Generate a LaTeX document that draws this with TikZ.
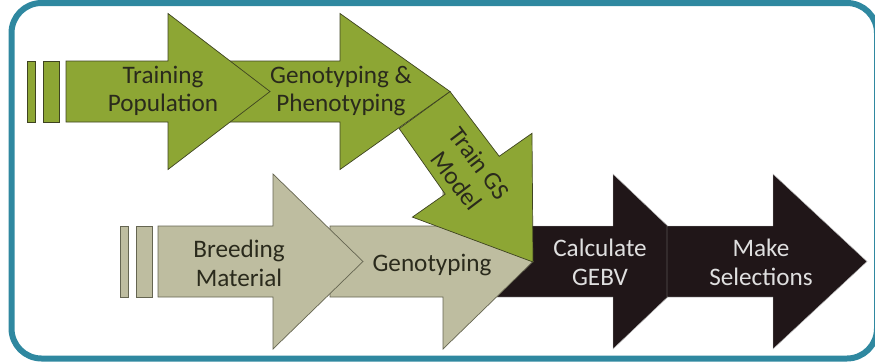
\documentclass[tikz,border=0pt]{standalone}
\usepackage{fontspec}
\setmainfont{Carlito}
\usepackage{tikz}
\definecolor{gsgreen}{RGB}{141,166,52}
\definecolor{gsgray}{RGB}{190,189,160}
\definecolor{gsblack}{RGB}{32,22,24}
\definecolor{gsteal}{RGB}{47,136,160}
\definecolor{gsink}{RGB}{42,42,28}
% horizontal block arrow: style, back x, head base x, tip x, mid y, body half, head half
\newcommand{\FlowArrow}[7]{%
  \draw[#1] (#2,#5-#6) -- (#3,#5-#6) -- (#3,#5-#7) -- (#4,#5) -- (#3,#5+#7)
    -- (#3,#5+#6) -- (#2,#5+#6) -- cycle;}

\begin{document}
\begin{tikzpicture}[x=0.03cm, y=-0.03cm,
    greenfl/.style={fill=gsgreen, draw=gsink!80!gsgreen, line width=0.6pt},
    grayfl/.style={fill=gsgray, draw=gsink!60!gsgray, line width=0.6pt},
    blackfl/.style={fill=gsblack, draw=gray!50, line width=0.4pt},
    label/.style={align=center, text=gsink, inner sep=1pt, font=\fontsize{21.5}{24.5}\selectfont},
    lightlabel/.style={label, text=gray!25}]
		\useasboundingbox (0,0) rectangle (875,361);
		% Frame
		\draw[gsteal, line width=0.18cm, rounded corners=0.9cm] (11.5,3) rectangle (877,358.5);

		% Bottom row
		\FlowArrow{blackfl}{495}{613}{705}{261.5}{35.5}{87.5}
		\FlowArrow{blackfl}{667}{773}{867}{261.5}{35.5}{87.5}
		\FlowArrow{grayfl}{330}{443}{533}{261.5}{35.5}{87.5}
		\FlowArrow{grayfl}{158}{273}{363}{261.5}{35.5}{87.5}
		\draw[grayfl] (120,226) rectangle (128,297);
		\draw[grayfl] (136,226) rectangle (152,297);

		% Train GS model arrow
		\draw[greenfl] (450,91.5) -- (499.2,156.3) -- (532,133.3) -- (533,262)
			-- (412.4,217.1) -- (445.2,194.1) -- (399.2,128.6) -- cycle;

		% Top row
		\FlowArrow{greenfl}{230}{340}{450}{91.5}{30.5}{78}
		\FlowArrow{greenfl}{66}{168}{270}{91.5}{30.5}{78}
		\draw[greenfl] (27,61) rectangle (35,122);
		\draw[greenfl] (43,61) rectangle (59,122);

		% Define nodes
		\node[label] (train) at (163,91) {Training\\Population};
		\node[label] (genopheno) at (341,91) {Genotyping \&\\Phenotyping};
		\node[label, rotate=-53] (gsmodel) at (468,172) {Train GS\\Model};
		\node[label] (breed) at (239,263) {Breeding\\Material};
		\node[label] (geno) at (432,265) {Genotyping};
		\node[lightlabel] (gebv) at (600,262) {Calculate\\GEBV};
		\node[lightlabel] (select) at (761,262) {Make\\Selections};
	\end{tikzpicture}
\end{document}
